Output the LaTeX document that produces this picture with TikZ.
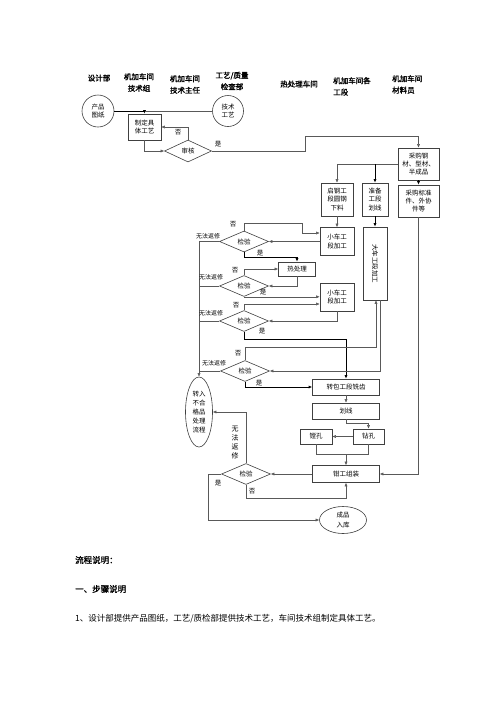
\documentclass[tikz,border=0pt]{standalone}
\usepackage{fontspec}
\setmainfont{Noto Sans CJK SC}[AutoFakeBold=1.5]
\usetikzlibrary{shapes.geometric,arrows.meta,calc}
\tikzset{
  box/.style={draw=black!75, line width=0.6pt, align=center, inner sep=0.5pt,
    font=\fontsize{6.5}{8.4}\selectfont},
  dia/.style={diamond, draw=black!75, line width=0.6pt, inner sep=0pt,
    minimum width=49pt, minimum height=21pt, font=\fontsize{6.5}{8.4}\selectfont},
  circ/.style={circle, draw=black!75, line width=0.6pt, align=center, inner sep=0pt,
    font=\fontsize{6.5}{8.4}\selectfont},
  ell/.style={ellipse, draw=black!75, line width=0.6pt, align=center, inner sep=0pt,
    font=\fontsize{6.5}{9.2}\selectfont},
  ln/.style={draw=black!65, line width=0.5pt},
  dk/.style={draw=black, line width=0.7pt},
  ar/.style={-{Latex[length=3.5pt,width=3pt]}},
  lab/.style={font=\fontsize{6.5}{8.4}\selectfont, inner sep=0pt},
  slab/.style={font=\fontsize{6}{7}\selectfont, inner sep=0pt},
  hdr/.style={font=\bfseries\fontsize{7.5}{11.5}\selectfont, inner sep=0pt},
  body/.style={font=\fontsize{8.5}{10}\selectfont, inner sep=0pt, anchor=west}
}
\begin{document}
\begin{tikzpicture}[x=1pt,y=-1pt]
\useasboundingbox (0,0) rectangle (496,702);
\fill[white] (0,0) rectangle (496,702);

% headers
\node[hdr] (h1) at (99,78) {设计部};
\node[hdr, align=center] (h2) at (139,82.5) {机加车间\\技术组};
\node[hdr, align=center] (h3) at (185,84.5) {机加车间\\技术主任};
\node[hdr, align=center] (h4) at (232,81) {工艺/质量\\检查部};
\node[hdr] (h5) at (299,84) {热处理车间};
\node[hdr, align=left, anchor=north west] (h6) at (333,77) {机加车间各\\工段};
\node[hdr, align=left, anchor=north west] (h7) at (392,75) {机加车间\\材料员};

% nodes
\node[circ, minimum size=32pt] (pt) at (98,111) {产品\\图纸};
\node[circ, minimum size=31pt] (js) at (228,111) {技术\\工艺};
\node[box, minimum width=33pt, minimum height=26pt] (zd) at (144.5,127) {制定具\\体工艺};
\node[dia, minimum width=47pt, minimum height=22pt] (sh) at (188,151) {审核};

\node[box, minimum width=41pt, minimum height=32pt] (cg1) at (418.5,164) {采购钢\\材、型材、\\半成品};
\node[box, minimum width=41pt, minimum height=32pt] (cg2) at (418.5,201) {采购标准\\件、外协\\件等};
\node[box, minimum width=32pt, minimum height=33pt] (qg) at (337,199.5) {启钢工\\段圆钢\\下料};
\node[box, minimum width=26pt, minimum height=33pt] (zb) at (375,199.5) {准备\\工段\\划线};
\node[box, minimum width=34pt, minimum height=28pt] (xc1) at (337,241.5) {小车工\\段加工};
\node[box, minimum width=24pt, minimum height=73pt] (dc) at (375,263.5) {\rotatebox{-90}{大车工段加工}};
\node[box, minimum width=37pt, minimum height=14pt] (rcl) at (297,269) {热处理};
\node[box, minimum width=34pt, minimum height=28pt] (xc2) at (337,297) {小车工\\段加工};

\node[dia] (d1) at (244,241.5) {检验};
\node[dia] (d2) at (244,286) {检验};
\node[dia] (d3) at (244,321) {检验};
\node[dia] (d4) at (245,371) {检验};
\node[dia] (d5) at (246,474) {检验};

\node[box, minimum width=67pt, minimum height=16pt] (zbg) at (346,387) {转包工段铣齿};
\node[box, minimum width=67pt, minimum height=16pt] (hx) at (346,411) {划线};
\node[box, minimum width=31pt, minimum height=15pt] (zk) at (368.5,436.5) {钻孔};
\node[box, minimum width=32pt, minimum height=15pt] (tk) at (316,436.5) {镗孔};
\node[box, minimum width=67pt, minimum height=17pt] (qz) at (346,474) {钳工组装};

\node[ell, minimum width=27pt, minimum height=70pt] (bh) at (199,412) {转入\\不合\\格品\\处理\\流程};
\node[ell, minimum width=47pt, minimum height=27pt] (cp) at (343,520) {成品\\入库};

% connectors: top
\draw[dk, ar] (pt.east) -| (zd.north);
\draw[ln] (js.west) -- (js.west -| zd.north);
\draw[ln, ar] (zd.south) |- (sh.west);
\draw[ln, ar] (sh.north) |- (zd.east);
\node[lab] (l1) at (178,132) {否};
\draw[ln, ar] (sh.east) -- (305,151) |- (418.5,136) -- (cg1.north);
\node[lab] (l2) at (218,144) {是};

\draw[dk, ar] (cg1.south) -- (cg2.north);
\draw[ln, ar] (cg1.west) -| (qg.north);
\draw[dk, ar] (cg1.west -| zb.north) -- (zb.north);
\draw[ln, ar] (qg.south) -- (xc1.north);
\draw[dk, ar] (zb.south) -- (dc.north);

% D1
\draw[ln, ar] (xc1.west) -- (d1.east);
\draw[ln, ar] (d1.north) -- (244,223) -- (302,223) -- (302,233) -- (xc1.west |- 0,233);
\node[lab] (l3) at (233,224) {否};
\draw[dk, ar] (d1.south) -- (244,257) -| (rcl.north);
\node[lab] (l4) at (260,253) {是};
\draw[ln, ar] (d1.west) -| (bh.north);
\node[slab] (w1) at (208,236) {无法返修};

% D2
\draw[ln, ar] (d2.north) |- (rcl.west);
\node[lab] (l5) at (235,270) {否};
\draw[ln, ar] (rcl.south) |- (d2.east);
\draw[ln, ar] (d2.south) -- (d2.south -| xc2.west);
\node[lab] (l6) at (263,292) {是};
\draw[ln] (d2.west) -- (d2.west -| bh.north);
\node[slab] (w2) at (211,277) {无法返修};

% D3
\draw[ln, ar] (d3.north) -- (244,304) -- (xc2.west |- 0,304);
\node[lab] (l7) at (236,305) {否};
\draw[ln, ar] (xc2.south) |- (d3.east);
\draw[dk, ar] (d3.south) -- (244,339) -| (zbg.north);
\node[lab] (l8) at (262,331) {是};
\draw[ln] (d3.west) -- (d3.west -| bh.north);
\node[slab] (w3) at (211,313) {无法返修};

% D4
\draw[ln, ar] (d4.north) -- (245,347) -| ($(dc.south)+(1,0)$);
\node[lab] (l9) at (238,353) {否};
\draw[ln, ar] ($(dc.south)+(5,0)$) |- (d4.east);
\draw[dk, ar] (d4.south) |- (zbg.west);
\node[lab] (l10) at (259,383) {是};
\draw[ln] (d4.west) -- (d4.west -| bh.north);
\node[slab] (w4) at (214,363) {无法返修};

% lower chain
\draw[ln, ar] (zbg.south) -- (hx.north);
\draw[ln, ar] (hx.south) -- (346,423) -| (zk.north);
\draw[ln, ar] (zk.west) -- (tk.east);
\draw[ln] (tk.south) -- (316,454) -- (368.5,454) -- (zk.south);
\draw[ln, ar] (346,454) -- (qz.north);
\draw[ln, ar] (cg2.south) |- (qz.east);

% D5
\draw[ln, ar] (qz.west) -- (d5.east);
\draw[ln, ar] (d5.south) -- (246,498) -| (qz.south);
\node[lab] (l11) at (252,491) {否};
\draw[ln, ar] (d5.west) -- (208,474) |- (cp.west);
\node[lab] (l12) at (218,483) {是};
\draw[ln, ar] (d5.north) |- (bh.east);
\node[lab, align=center, font=\fontsize{7}{9}\selectfont] (w5) at (235,443) {无\\法\\返\\修};

% description text
\node[body, font=\bfseries\fontsize{8.5}{10}\selectfont] (t1) at (75,560) {流程说明：};
\node[body, font=\bfseries\fontsize{8.5}{10}\selectfont] (t2) at (75,589) {一、步骤说明};
\node[body] (t3) at (75,619) {1、设计部提供产品图纸，工艺/质检部提供技术工艺，车间技术组制定具体工艺。};
\end{tikzpicture}
\end{document}
